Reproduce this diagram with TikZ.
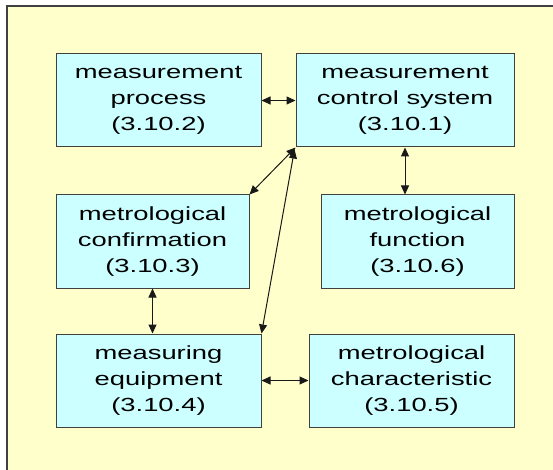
\documentclass[tikz,border=0pt]{standalone}
\usepackage{fontspec}
\newfontfamily\boxfont{Liberation Sans}[FakeStretch=1.44]
\usetikzlibrary{arrows.meta, positioning}
\definecolor{paper}{HTML}{FFFFCC}
\definecolor{boxcyan}{HTML}{CCFFFF}

\begin{document}
\begin{tikzpicture}[
    x=1pt, y=-1pt,
    n/.style={rectangle, draw=black!75, line width=1pt, fill=boxcyan, align=center,
              font=\boxfont\fontsize{19}{26}\selectfont, text=black, minimum height=93pt, inner sep=0pt},
    a/.style={{Triangle[length=9pt, width=8pt]}-{Triangle[length=9pt, width=8pt]}, line width=1pt, black!90},
]
\useasboundingbox (0,0) rectangle (553,470);
\clip (0,0) rectangle (553,470);
\draw[fill=paper, draw=black!75, line width=1.2pt] (7,6) rectangle (560,480);

\node[n, minimum width=205pt] (proc) at (158.5,100.5) {measurement\\process\\(3.10.2)};
\node[n, minimum width=218pt] (ctrl) at (405,100.5) {measurement\\control system\\(3.10.1)};
\node[n, minimum width=193pt] (conf) at (152.5,241.5) {metrological\\confirmation\\(3.10.3)};
\node[n, minimum width=193pt] (func) at (417.5,241.5) {metrological\\function\\(3.10.6)};
\node[n, minimum width=205pt] (equip) at (158.5,380.5) {measuring\\equipment\\(3.10.4)};
\node[n, minimum width=205pt] (char) at (411.5,380.5) {metrological\\characteristic\\(3.10.5)};

\draw[a] (proc.east) -- (ctrl.west);
\draw[a] (ctrl.south) -- (ctrl.south |- func.north);
\draw[a] (conf.south) -- (conf.south |- equip.north);
\draw[a] (equip.east) -- (char.west);
\draw[a] (ctrl.south west) -- (conf.north east);
\draw[a] ([xshift=-1pt,yshift=-2pt]ctrl.south west) -- (equip.north east);
\end{tikzpicture}
\end{document}
